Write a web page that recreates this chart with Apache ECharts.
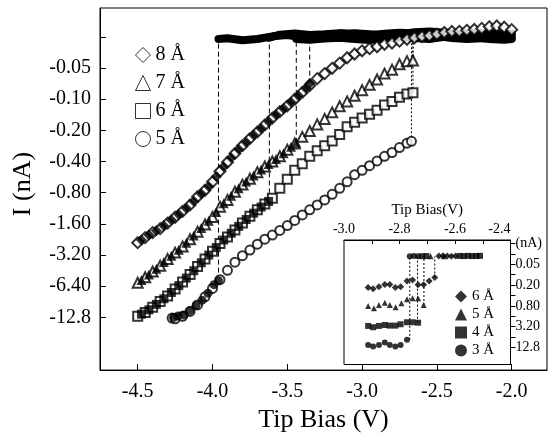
<!DOCTYPE html>
<html>
<head>
<meta charset="utf-8">
<script src="https://cdn.jsdelivr.net/npm/echarts@6.0.0/dist/echarts.min.js"></script>
<style>
  html, body { margin: 0; padding: 0; background: #fff; }
  #chart { width: 548px; height: 438px; }
</style>
</head>
<body>
<div id="chart"></div>
<script>
// tip bias (V) vs current magnitude (nA)

// main panel, open symbols (legend series)
const open8 = [[-4.50,2.43],[-4.45,2.17],[-4.40,1.94],[-4.35,1.78],[-4.30,1.57],[-4.25,1.38],[-4.20,1.21],[-4.15,1.05],[-4.10,0.875],[-4.05,0.757],[-4.00,0.628],[-3.95,0.496],[-3.90,0.406],[-3.85,0.334],[-3.80,0.281],[-3.75,0.240],[-3.70,0.207],[-3.65,0.177],[-3.60,0.152],[-3.55,0.132],[-3.50,0.116],[-3.45,0.100],[-3.40,0.0859],[-3.35,0.0737],[-3.30,0.0633],[-3.25,0.0566],[-3.20,0.0503],[-3.15,0.0448],[-3.10,0.0398],[-3.05,0.0366],[-3.00,0.0341],[-2.95,0.0325],[-2.90,0.0312],[-2.85,0.0295],[-2.80,0.0287],[-2.75,0.0275],[-2.70,0.0264],[-2.65,0.0255],[-2.60,0.0248],[-2.55,0.0243],[-2.50,0.0235],[-2.45,0.0227],[-2.40,0.0222],[-2.35,0.0221],[-2.30,0.0216],[-2.25,0.0212],[-2.20,0.0207],[-2.15,0.0200],[-2.10,0.0196],[-2.05,0.0202],[-2.00,0.0213]];
const open7 = [[-4.50,5.93],[-4.45,5.24],[-4.40,4.62],[-4.35,4.05],[-4.30,3.50],[-4.25,3.03],[-4.20,2.64],[-4.15,2.25],[-4.10,1.90],[-4.05,1.62],[-4.00,1.37],[-3.95,1.09],[-3.90,0.938],[-3.85,0.784],[-3.80,0.668],[-3.75,0.586],[-3.70,0.506],[-3.65,0.447],[-3.60,0.400],[-3.55,0.356],[-3.50,0.307],[-3.45,0.268],[-3.40,0.231],[-3.35,0.203],[-3.30,0.175],[-3.25,0.155],[-3.20,0.134],[-3.15,0.117],[-3.10,0.105],[-3.05,0.0927],[-3.00,0.0818],[-2.95,0.0727],[-2.90,0.0646],[-2.85,0.0566],[-2.80,0.0518],[-2.75,0.0460],[-2.70,0.0429],[-2.66,0.0423]];
const open6 = [[-4.50,12.5],[-4.45,11.5],[-4.40,10.2],[-4.35,8.99],[-4.30,7.94],[-4.25,6.81],[-4.20,5.81],[-4.15,4.92],[-4.10,4.13],[-4.05,3.50],[-4.00,2.94],[-3.95,2.48],[-3.90,2.14],[-3.85,1.83],[-3.80,1.57],[-3.75,1.35],[-3.70,1.17],[-3.65,1.03],[-3.60,0.906],[-3.55,0.726],[-3.50,0.594],[-3.45,0.486],[-3.40,0.420],[-3.35,0.356],[-3.30,0.314],[-3.25,0.281],[-3.20,0.253],[-3.15,0.219],[-3.10,0.184],[-3.05,0.167],[-3.00,0.152],[-2.95,0.140],[-2.90,0.128],[-2.85,0.114],[-2.80,0.105],[-2.75,0.0959],[-2.70,0.0889],[-2.66,0.0864]];
const open5 = [[-4.27,13.0],[-4.25,13.2],[-4.20,12.5],[-4.15,11.2],[-4.10,9.70],[-4.05,8.10],[-4.00,6.72],[-3.95,5.53],[-3.90,4.49],[-3.85,3.75],[-3.80,3.24],[-3.75,2.86],[-3.70,2.51],[-3.65,2.25],[-3.60,2.05],[-3.55,1.85],[-3.50,1.66],[-3.45,1.48],[-3.40,1.31],[-3.35,1.17],[-3.30,1.05],[-3.25,0.938],[-3.20,0.828],[-3.15,0.726],[-3.10,0.628],[-3.05,0.535],[-3.00,0.486],[-2.95,0.438],[-2.90,0.394],[-2.85,0.356],[-2.80,0.327],[-2.75,0.293],[-2.70,0.266],[-2.67,0.255]];

// main panel, filled symbols up to the jump
const fill8 = [[-4.475,2.29],[-4.425,2.05],[-4.375,1.86],[-4.325,1.67],[-4.275,1.47],[-4.225,1.30],[-4.175,1.13],[-4.125,0.965],[-4.075,0.817],[-4.025,0.696],[-3.975,0.558],[-3.925,0.450],[-3.875,0.368],[-3.825,0.305],[-3.775,0.260],[-3.725,0.222],[-3.675,0.192],[-3.625,0.164],[-3.575,0.141],[-3.525,0.123],[-3.475,0.107],[-3.425,0.0927],[-3.375,0.0790],[-3.35,0.0707]];
const fill7 = [[-4.475,5.57],[-4.425,4.92],[-4.375,4.34],[-4.325,3.73],[-4.275,3.24],[-4.225,2.84],[-4.175,2.43],[-4.125,2.07],[-4.075,1.75],[-4.025,1.49],[-3.975,1.23],[-3.925,1.01],[-3.875,0.857],[-3.825,0.726],[-3.775,0.623],[-3.725,0.546],[-3.675,0.476],[-3.625,0.423],[-3.575,0.378],[-3.525,0.332],[-3.475,0.287],[-3.44,0.264]];
const fill6 = [[-4.475,11.9],[-4.425,10.8],[-4.375,9.57],[-4.325,8.45],[-4.275,7.35],[-4.225,6.31],[-4.175,5.34],[-4.125,4.53],[-4.075,3.80],[-4.025,3.20],[-3.975,2.71],[-3.925,2.29],[-3.875,1.97],[-3.825,1.69],[-3.775,1.45],[-3.725,1.26],[-3.675,1.10],[-3.625,0.971]];
const fill5 = [[-4.26,12.8],[-4.23,12.4],[-4.19,12.1],[-4.15,11.0],[-4.11,9.84],[-4.07,8.74],[-4.03,7.46],[-3.99,6.18],[-3.96,5.65]];

// main panel, filled symbols after the jump (top band)
const top5 = [[-3.96,0.0262],[-3.90,0.0258],[-3.80,0.0270],[-3.70,0.0262],[-3.60,0.0247],[-3.50,0.0240],[-3.40,0.0252],[-3.30,0.0258],[-3.20,0.0249],[-3.10,0.0243],[-3.00,0.0238],[-2.90,0.0250],[-2.80,0.0246],[-2.70,0.0240],[-2.60,0.0236],[-2.50,0.0245],[-2.40,0.0256],[-2.30,0.0262],[-2.20,0.0258],[-2.10,0.0255],[-2.00,0.0257]];
const top6 = [[-3.62,0.0255],[-3.55,0.0238],[-3.45,0.0232],[-3.35,0.0240],[-3.25,0.0236],[-3.15,0.0230],[-3.05,0.0234],[-2.95,0.0241],[-2.85,0.0233],[-2.75,0.0228],[-2.65,0.0232],[-2.55,0.0226],[-2.45,0.0231],[-2.35,0.0240],[-2.25,0.0244],[-2.15,0.0236],[-2.05,0.0238],[-2.00,0.0243]];
const top7 = [[-3.44,0.0262],[-3.35,0.0266],[-3.25,0.0260],[-3.15,0.0255],[-3.05,0.0262],[-2.95,0.0268],[-2.85,0.0258],[-2.75,0.0252],[-2.65,0.0257],[-2.55,0.0262],[-2.45,0.0250],[-2.35,0.0246],[-2.25,0.0252],[-2.15,0.0262],[-2.05,0.0266],[-2.00,0.0262]];
const top8 = [[-3.35,0.0249],[-3.25,0.0244],[-3.15,0.0238],[-3.05,0.0230],[-2.95,0.0236],[-2.85,0.0242],[-2.75,0.0238],[-2.65,0.0226],[-2.55,0.0222],[-2.45,0.0228],[-2.35,0.0233],[-2.25,0.0228],[-2.15,0.0232],[-2.05,0.0236],[-2.00,0.0232]];

// vertical jump lines: bias, current before, current after
const jumpBias = [-3.96, -3.62, -3.44, -3.35];
const jumpLow = [5.65, 0.971, 0.264, 0.0707];
const jumpHigh = [0.0262, 0.0255, 0.0262, 0.0249];
const dropBias = [-2.66, -2.66, -2.67];
const dropLow = [0.0423, 0.0864, 0.255];
const dropHigh = [0.0252, 0.0252, 0.0252];

// inset
const inset6 = [[-2.913,0.235],[-2.895,0.257],[-2.874,0.225],[-2.853,0.192],[-2.835,0.192],[-2.815,0.235],[-2.796,0.225],[-2.773,0.152],[-2.753,0.144],[-2.733,0.197],[-2.713,0.197],[-2.693,0.152],[-2.673,0.121],
  [-2.658,0.0290],[-2.643,0.0286],[-2.628,0.0290],[-2.613,0.0293],[-2.598,0.0289]];
const inset5 = [[-2.913,0.811],[-2.892,0.945],[-2.874,0.757],[-2.853,0.650],[-2.835,0.757],[-2.814,0.882],[-2.793,0.677],[-2.773,0.520],[-2.753,0.486],[-2.733,0.486],[-2.713,0.757],
  [-2.688,0.0292],[-2.640,0.0296]];
const inset4 = [[-2.913,3.05],[-2.895,3.33],[-2.874,3.05],[-2.853,2.86],[-2.835,2.99],[-2.815,2.99],[-2.796,2.73],[-2.773,2.39],[-2.753,2.39],[-2.733,2.46],
  [-2.718,0.0293],[-2.703,0.0290],[-2.583,0.0288],[-2.568,0.0291],[-2.553,0.0286],[-2.538,0.0290],[-2.523,0.0289],[-2.510,0.0286]];
const inset3 = [[-2.913,10.8],[-2.895,12.0],[-2.874,10.8],[-2.853,9.24],[-2.835,10.8],[-2.815,12.0],[-2.796,10.8],[-2.773,7.72],
  [-2.763,0.0293],[-2.748,0.0290],[-2.733,0.0295]];
const insetJumpBias = [-2.763, -2.735, -2.712, -2.673];
const insetJumpLow = [7.72, 2.46, 0.757, 0.121];
const insetJumpHigh = [0.0293, 0.0293, 0.0293, 0.0293];

// axes
const mainXTicks = [-4.5, -4.0, -3.5, -3.0, -2.5, -2.0];
const mainYTickCurrents = [0.025, 0.05, 0.10, 0.20, 0.40, 0.80, 1.60, 3.20, 6.40, 12.8];
const mainYLabelCurrents = [0.05, 0.10, 0.20, 0.40, 0.80, 1.60, 3.20, 6.40, 12.8];
const mainYLabels = ['-0.05', '-0.10', '-0.20', '-0.40', '-0.80', '-1.60', '-3.20', '-6.40', '-12.8'];
const insetXTicks = [-2.9, -2.8, -2.7, -2.6, -2.5];
const insetXLabels = [-3.0, -2.8, -2.6, -2.4];
const insetYTickCurrents = [0.0125, 0.025, 0.05, 0.10, 0.20, 0.40, 0.80, 1.60, 3.20, 6.40, 12.8];
const insetYLabelCurrents = [0.0125, 0.05, 0.20, 0.80, 3.20, 12.8];
const insetYLabels = ['(nA)', '0.05', '0.20', '0.80', '3.20', '12.8'];

const FONT = '"Liberation Serif", "Times New Roman", serif';
const REF = 0.05;
// the current axis is logarithmic, one step per doubling from 0.05 nA
const level = i => Math.log2(i / REF);
const pts = arr => arr.map(([v, i]) => [v, level(i)]);
const near = (vals, labels) => v => {
  const idx = vals.findIndex(c => Math.abs(level(c) - v) < 1e-6);
  return idx >= 0 ? labels[idx] : '';
};

const chart = echarts.init(document.getElementById('chart'), null, { renderer: 'canvas' });

const series = [];
const vline = (x, lo, hi, xi, dash) => ({
  type: 'line', xAxisIndex: xi, yAxisIndex: xi, symbol: 'none', silent: true, z: 1,
  data: [[x, level(lo)], [x, level(hi)]],
  lineStyle: { color: '#000', width: 1, type: dash }
});
jumpBias.forEach((b, i) => series.push(vline(b, jumpLow[i], jumpHigh[i], 0, [5, 3])));
dropBias.forEach((b, i) => series.push(vline(b, dropLow[i], dropHigh[i], 0, [2, 2])));
insetJumpBias.forEach((b, i) => series.push(vline(b, insetJumpLow[i], insetJumpHigh[i], 1, [2, 2])));

[top5, top6, top7, top8].forEach(d => series.push({
  type: 'line', xAxisIndex: 0, yAxisIndex: 0, symbol: 'none', silent: true, z: 3,
  data: pts(d), lineStyle: { color: '#000', width: 8, cap: 'round', join: 'round' }
}));

const openDefs = [['8 Å', open8, 'emptyDiamond', 11, 'diamond'], ['7 Å', open7, 'emptyTriangle', 10, 'triangle'],
  ['6 Å', open6, 'emptyRect', 9, 'rect'], ['5 Å', open5, 'emptyCircle', 9, 'circle']];
openDefs.forEach(([name, d, sym, size]) => series.push({
  name, type: 'scatter', xAxisIndex: 0, yAxisIndex: 0, symbol: sym, symbolSize: size, z: 4,
  data: pts(d), itemStyle: { color: '#000', borderColor: '#000', borderWidth: 1 }
}));
const fillDefs = [[fill8, 'diamond', 11], [fill7, 'triangle', 10], [fill6, 'rect', 9], [fill5, 'circle', 9]];
fillDefs.forEach(([d, sym, size]) => series.push({
  type: 'scatter', xAxisIndex: 0, yAxisIndex: 0, symbol: sym, symbolSize: size, z: 5,
  data: pts(d), itemStyle: { color: '#000' }
}));

const insetDefs = [['in 6 Å', inset6, 'diamond', 7], ['in 5 Å', inset5, 'triangle', 6],
  ['in 4 Å', inset4, 'rect', 6], ['in 3 Å', inset3, 'circle', 6]];
insetDefs.forEach(([name, d, sym, size]) => series.push({
  name, type: 'scatter', xAxisIndex: 1, yAxisIndex: 1, symbol: sym, symbolSize: size, z: 5,
  data: pts(d), itemStyle: { color: '#000' }
}));

const black = { color: '#000' };
chart.setOption({
  animation: false,
  backgroundColor: '#fff',
  textStyle: { fontFamily: FONT, color: '#000' },
  grid: [
    { left: 100, top: 8, right: 1, bottom: 62.5, show: true, borderColor: '#000', borderWidth: 1 },
    { left: 344, top: 240, right: 37.5, bottom: 73.5, show: true, borderColor: '#000', borderWidth: 1 }
  ],
  legend: [
    {
      data: openDefs.map(o => ({
        name: o[0], icon: o[4],
        itemStyle: { color: '#fff', borderColor: '#000', borderWidth: 1 }
      })),
      orient: 'vertical', left: 130, top: 40,
      itemWidth: 15, itemHeight: 15, itemGap: 8, selectedMode: false,
      textStyle: { fontFamily: FONT, fontSize: 20, color: '#000' }
    },
    {
      data: insetDefs.map(o => o[0]), orient: 'vertical', left: 450, top: 284,
      itemWidth: 12, itemHeight: 12, itemGap: 3, selectedMode: false,
      formatter: n => n.replace('in ', ''),
      textStyle: { fontFamily: FONT, fontSize: 15, color: '#000' }
    }
  ],
  xAxis: [
    {
      gridIndex: 0, type: 'value', min: -4.752, max: -1.764,
      axisLine: { onZero: false, lineStyle: black },
      axisTick: { inside: true, length: 6, customValues: mainXTicks, lineStyle: black },
      axisLabel: { customValues: mainXTicks, formatter: v => v.toFixed(1), margin: 12,
        fontFamily: FONT, fontSize: 20, color: '#000' },
      splitLine: { show: false },
      name: 'Tip Bias (V)', nameLocation: 'middle', nameGap: 36,
      nameTextStyle: { fontFamily: FONT, fontSize: 26, color: '#000' }
    },
    {
      gridIndex: 1, type: 'value', position: 'top', min: -3.0, max: -2.4,
      axisLine: { onZero: false, lineStyle: black },
      axisTick: { inside: true, length: 4, customValues: insetXTicks, lineStyle: black },
      axisLabel: { customValues: insetXLabels, formatter: v => v.toFixed(1), margin: 4,
        alignMaxLabel: 'right', fontFamily: FONT, fontSize: 14, color: '#000' },
      splitLine: { show: false },
      name: 'Tip Bias(V)', nameLocation: 'middle', nameGap: 22,
      nameTextStyle: { fontFamily: FONT, fontSize: 15, color: '#000' }
    }
  ],
  yAxis: [
    {
      gridIndex: 0, type: 'value', inverse: true, min: -1.926, max: 9.69,
      axisLine: { onZero: false, lineStyle: black },
      axisTick: { inside: true, length: 6, customValues: mainYTickCurrents.map(level), lineStyle: black },
      axisLabel: { customValues: mainYLabelCurrents.map(level), formatter: near(mainYLabelCurrents, mainYLabels),
        margin: 9, fontFamily: FONT, fontSize: 20, color: '#000' },
      splitLine: { show: false },
      name: 'I (nA)', nameLocation: 'middle', nameGap: 64,
      nameTextStyle: { fontFamily: FONT, fontSize: 26, color: '#000', padding: [0, 0, 0, 10] }
    },
    {
      gridIndex: 1, type: 'value', position: 'right', inverse: true, min: -2.33, max: 9.64,
      axisLine: { onZero: false, lineStyle: black },
      axisTick: { inside: false, length: 5, customValues: insetYTickCurrents.map(level), lineStyle: black },
      axisLabel: { customValues: insetYLabelCurrents.map(level), formatter: near(insetYLabelCurrents, insetYLabels),
        margin: 5, fontFamily: FONT, fontSize: 14, color: '#000' },
      splitLine: { show: false }
    }
  ],
  series
});
</script>
</body>
</html>
